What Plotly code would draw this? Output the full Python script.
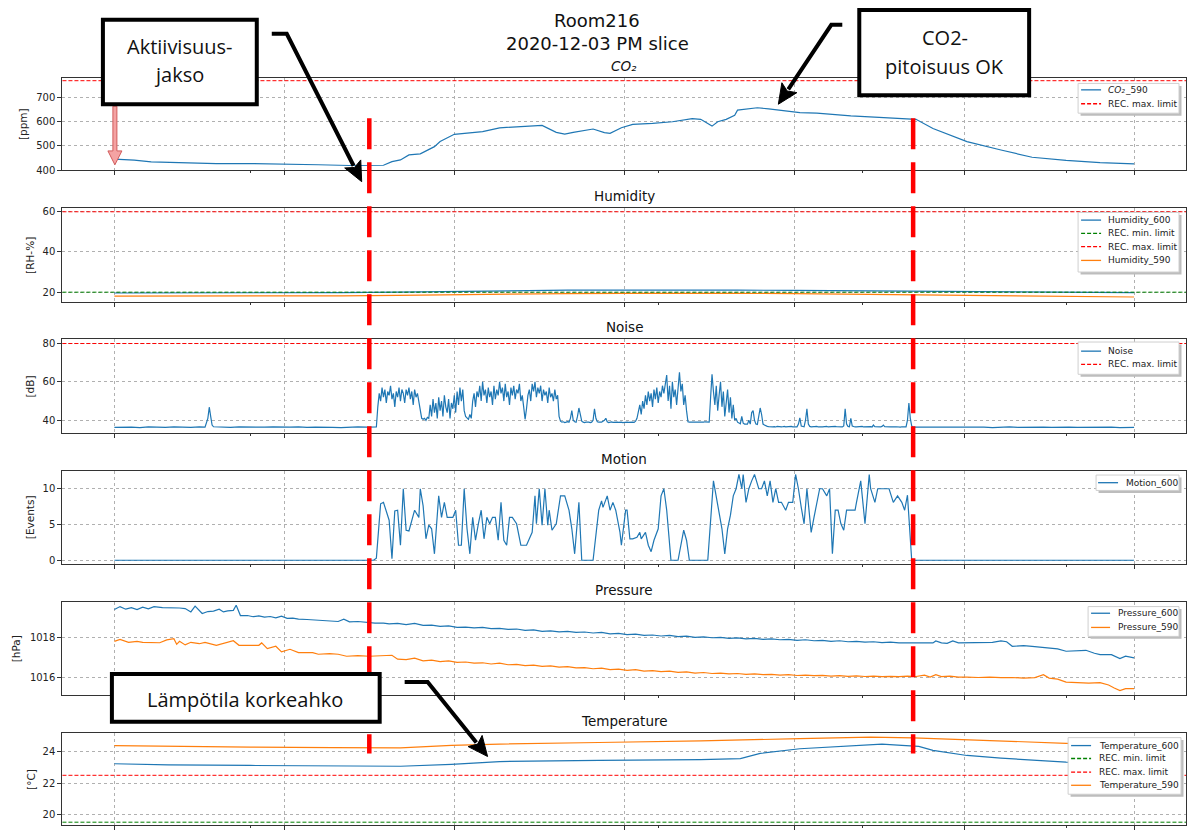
import math
import plotly.graph_objects as go
import pandas as pd

# ---------------- data (minutes after 12:00 on 2020-12-03) ----------------
DAY_START = "2020-12-03 12:00"

co2_min = [0, 7, 13, 24, 36, 48, 60, 72, 83, 91, 95, 98, 101, 104, 108, 113, 115, 120, 125, 130,
           136, 142, 151, 156, 159, 162, 167, 169, 173, 175, 179, 183, 190, 197, 204, 207, 211, 213, 216, 219,
           220, 223, 227, 231, 235, 242, 248, 260, 270, 283, 289, 301, 313, 324, 336, 348, 360]
co2_590 = [445, 441, 434, 430, 427, 427, 423, 422, 419, 419, 420, 435, 442, 463, 467, 497, 518, 548, 552, 559,
           575, 579, 585, 556, 549, 556, 568, 570, 555, 552, 575, 589, 593, 600, 613, 610, 582, 600, 610, 627,
           648, 652, 658, 653, 648, 638, 636, 624, 618, 610, 572, 518, 483, 453, 440, 431, 426]

hum_min = [0, 20, 40, 60, 80, 100, 120, 140, 160, 180, 200, 220, 240, 260, 280, 300, 320, 340, 360]
hum_600 = [19.6, 19.6, 19.7, 19.7, 19.8, 20.0, 20.4, 20.8, 21.0, 21.0, 21.1, 21.0, 20.9, 20.7, 20.4, 20.2, 20.0, 19.9, 19.8]
hum_590 = [18.0, 18.0, 18.0, 18.1, 18.2, 18.4, 18.8, 19.1, 19.3, 19.4, 19.5, 19.4, 19.3, 19.0, 18.8, 18.4, 18.0, 17.8, 17.6]

noise_pre_min = [0, 3, 6, 9, 12, 15, 18, 21, 24, 27, 30, 32, 33, 33.5, 34, 34.5, 35,
                 38, 41, 44, 47, 50, 53, 56, 59, 62, 65, 68, 71, 74, 77, 80, 83, 86, 89, 92]
noise_pre = [36.3, 36.5, 36.4, 36.2, 36.5, 36.4, 36.3, 36.6, 36.4, 36.3, 36.5, 36.4, 41, 46.8, 42, 37.5, 36.6,
             36.4, 36.3, 36.5, 36.4, 36.2, 36.4, 36.5, 36.3, 36.4, 36.6, 36.3, 36.4, 36.5, 36.3, 36.2, 36.4, 36.5, 36.4, 36.3]
noise_active_start = 92.5   # 30 s samples during the activity period
noise_active = [
    36.5, 47, 54, 50, 57, 52, 56, 49, 55, 53,
    58, 51, 54, 47, 55, 52, 57, 50, 56, 54,
    49, 56, 53, 57, 51, 55, 48, 56, 52, 54,
    50, 44, 41, 40.5, 41, 40, 41.5, 41, 48, 42,
    51, 44, 49, 41, 52, 45, 50, 42, 53, 47,
    44, 51, 41, 49, 46, 53, 44, 55, 48, 57,
    50, 56, 45, 42, 41, 40.5, 43, 41, 50, 54,
    47, 55, 52, 58, 50, 60, 53, 56, 49, 57,
    52, 55, 48, 58, 51, 56, 53, 60, 54, 57,
    50, 59, 52, 55, 48, 57, 53, 58, 51, 56,
    54, 59, 50, 53, 47, 40.5, 46, 53, 56, 50,
    59, 55, 60, 52, 57, 54, 58, 50, 56, 53,
    55, 49, 57, 52, 54, 50, 56, 51, 53, 42,
    39.5, 39, 39.2, 38.8, 39, 39.3, 39, 41, 45, 40,
    39.2, 39, 42, 46.4, 43, 39.5, 39, 38.8, 39, 39.2,
    39, 38.8, 39, 40, 46, 41, 39.2, 39, 38.9, 39,
    39.5, 40, 41, 39.2, 38.8, 39, 39.1, 38.9, 39, 39.2,
    39, 38.9, 39.1, 39, 38.8, 39, 39.1, 39, 38.9, 39,
    39.2, 39, 38.9, 39.5, 41, 44, 48, 43, 50, 46,
    53, 48, 55, 50, 54, 47, 56, 51, 57, 49,
    55, 52, 58, 54, 60, 63.6, 50, 58, 46, 60,
    52, 56, 48, 57, 65, 55, 59, 48, 53, 45,
    39.2, 39, 38.9, 39, 39.1, 39, 38.8, 39, 39.1, 39,
    38.9, 39, 39.2, 39, 38.9, 39, 52, 64, 55, 48,
    58, 45, 53, 60, 47, 55, 42, 50, 56, 44,
    52, 41, 48, 40, 41, 39, 38.5, 38.2, 42, 38.5,
    38, 37.8, 38, 40, 38, 44, 45, 40, 38, 37.8,
    42, 46.4, 43, 38, 37.5, 37, 36.8, 36.7, 36.6, 36.8,
    36.6, 36.7, 36.5, 36.8, 36.6, 36.7, 36.5, 36.6, 36.8, 36.6,
    36.7, 36.5, 36.6, 36.8, 36.6, 36.7, 36.5, 36.6, 38, 41.3,
    37, 36.7, 36.6, 40, 46, 38, 36.8, 36.6, 36.7, 36.5,
    36.6, 36.8, 36.5, 36.7, 36.6, 36.5, 36.7, 36.6, 36.8, 36.5,
    36.6, 36.7, 36.5, 36.6, 36.8, 36.6, 36.5, 36.7, 36.6, 36.5,
    37, 46, 38, 36.8, 36.6, 41, 37, 36.7, 36.5, 36.6,
    36.7, 36.5, 36.6, 36.8, 36.5, 36.6, 36.7, 36.5, 36.6, 36.7,
    36.5, 37.5, 36.6, 36.5, 36.7, 36.6, 36.5, 36.8, 37.5, 36.6,
    36.5, 36.7, 36.6, 36.5, 36.6, 36.4, 36.5, 36.6, 36.4, 36.5,
    36.4, 36.6, 36.5, 36.4, 36.5, 40, 49, 41, 37, 36.4,
]
noise_post_min = [283, 286, 289, 292, 295, 298, 301, 304, 307, 310, 313, 316, 319, 322, 325, 328,
                  331, 334, 337, 340, 343, 346, 349, 352, 355, 358, 360]
noise_post = [36.4, 36.5, 36.3, 36.4, 36.6, 36.4, 36.3, 36.5, 36.4, 36.2, 36.4, 36.5, 36.3, 36.4,
              36.6, 36.4, 36.3, 36.5, 36.4, 36.3, 36.4, 36.5, 36.3, 36.4, 36.2, 36.4, 36.3]

motion_600 = [  # (minute, events)
    (0, 0), (91.5, 0), (92.5, 0.3), (94, 7.9), (95, 8.1), (96, 6.9), (97, 5.6), (98, 0.2), (99, 6.9), (100, 7),
    (101, 2.1), (102, 10), (103, 4.2), (104, 4.1), (105, 5.6), (106, 7), (107.5, 6), (108, 10), (109, 7.6),
    (110, 3), (111, 4.9), (112, 4.4), (113, 0.9), (114.5, 9), (115.5, 6), (116.5, 8.1), (117.5, 6), (119.5, 6),
    (120.5, 7), (121.5, 2.1), (122.5, 2.1), (123.5, 10), (124.5, 4.4), (125.5, 0.9), (126.5, 6), (127.5, 2.8),
    (128.5, 5.1), (129.5, 7), (130.5, 3), (131.5, 6), (132.5, 5.1), (133.5, 6), (134.5, 6), (135.5, 2.8),
    (136.5, 8.1), (137.5, 2.8), (138.5, 2.1), (139.5, 6), (140.5, 6), (142, 5.1), (143.5, 2.1), (145.5, 2.1),
    (147.5, 3.9), (148.5, 9), (149, 5.1), (150, 10), (151, 4.9), (152, 10), (153, 4.9), (153.5, 7), (154.5, 4.2),
    (156, 5.1), (157.5, 9), (159, 9), (160.5, 7), (161.5, 4.4), (162.5, 0.9), (164, 8.1), (165, 0), (169, 0),
    (171, 7), (172, 8.3), (172.5, 7.4), (174, 9), (175, 7), (176, 8.1), (177, 7), (178.5, 3.9), (179, 2.1),
    (180.5, 7), (181, 7), (182, 3), (183, 3), (184.5, 3.2), (185.5, 3.9), (186, 3), (187.5, 3.9), (188.5, 2.1),
    (189.5, 1.2), (190.5, 2.8), (192, 4.4), (193, 9), (194, 10), (195, 7), (196.5, 0), (199, 0), (201, 4.2),
    (202, 2.8), (203, 0), (209.5, 0), (211.5, 11.1), (212.5, 9), (213, 8.1), (214.5, 4.4), (215.5, 0.9),
    (216.5, 4.4), (217.5, 6.3), (218.5, 9), (219.5, 10), (220.5, 12), (221.5, 10), (222, 12), (223, 8.1),
    (224, 10), (225, 11.1), (226, 12), (227.5, 10), (228.5, 10), (229.5, 11.1), (230.5, 9), (231.5, 11.1),
    (232.5, 8.1), (233.5, 10), (234.5, 8.1), (235.5, 8.1), (237, 7), (238, 8.1), (239.5, 8.1), (240.5, 12),
    (241.5, 10), (242.5, 7.4), (243.5, 5.1), (244.5, 10), (246, 3.9), (247, 6), (248, 8.1), (249, 10), (250, 10),
    (251.5, 9), (252.5, 10), (253.5, 0.9), (254.5, 7), (255.5, 7), (256.5, 5.1), (257.5, 4.2), (258.5, 7),
    (261.5, 7), (262, 8.1), (263.5, 11.1), (265, 5.1), (266.5, 12), (267, 10), (268.5, 8.1), (269.5, 10),
    (273.5, 10), (275, 8.1), (276.5, 9), (278, 8.1), (279, 7), (280, 9.1), (281.5, 0), (360, 0),
]

pressure_600 = [
    (0, 1019.40), (2, 1019.55), (4, 1019.42), (6, 1019.5), (8, 1019.4), (10, 1019.52), (12, 1019.44),
    (14, 1019.55), (17, 1019.5), (20, 1019.5), (23, 1019.48), (25, 1019.45), (27, 1019.28), (28.5, 1019.57),
    (31, 1019.2), (33, 1019.3), (35, 1019.32), (37, 1019.42), (38.5, 1019.28), (40, 1019.33), (42, 1019.36),
    (43, 1019.62), (44.5, 1019.1), (47, 1019.1), (49, 1019.04), (51, 1019.08), (53, 1019.02), (55, 1019.05),
    (57, 1018.98), (59, 1019.07), (61, 1018.96), (63, 1018.97), (65, 1018.92), (68, 1018.9), (71, 1018.88),
    (74, 1018.87), (77, 1018.82), (79, 1018.8), (81, 1018.92), (83, 1018.78), (86, 1018.8), (89, 1018.76),
    (92, 1018.72), (95, 1018.72), (97, 1018.68), (100, 1018.7), (103, 1018.64), (106, 1018.7), (109, 1018.6),
    (112, 1018.62), (115, 1018.55), (118, 1018.58), (121, 1018.5), (124, 1018.52), (127, 1018.48), (130, 1018.5),
    (133, 1018.44), (136, 1018.45), (139, 1018.4), (142, 1018.42), (145, 1018.35), (148, 1018.38), (151, 1018.3),
    (154, 1018.33), (157, 1018.28), (160, 1018.3), (163, 1018.25), (166, 1018.27), (169, 1018.22), (172, 1018.25),
    (175, 1018.18), (178, 1018.2), (181, 1018.14), (184, 1018.16), (187, 1018.1), (190, 1018.12), (193, 1018.07),
    (196, 1018.1), (199, 1018.04), (202, 1018.06), (205, 1018.0), (208, 1018.02), (211, 1017.98), (214, 1018.0),
    (217, 1017.95), (220, 1017.97), (223, 1017.92), (226, 1017.95), (229, 1017.9), (232, 1017.92), (235, 1017.88),
    (238, 1017.9), (241, 1017.85), (244, 1017.88), (247, 1017.83), (250, 1017.85), (253, 1017.8), (256, 1017.83),
    (259, 1017.78), (262, 1017.8), (265, 1017.76), (268, 1017.78), (271, 1017.74), (274, 1017.76), (277, 1017.72),
    (280, 1017.73), (283, 1017.72), (286, 1017.72), (289, 1017.72), (290, 1017.82), (292, 1017.72), (294, 1017.7),
    (296, 1017.82), (298, 1017.72), (301, 1017.72), (304, 1017.72), (307, 1017.72), (310, 1017.75), (313, 1017.82),
    (315, 1017.78), (317, 1017.55), (321, 1017.58), (324, 1017.55), (327, 1017.5), (330, 1017.45), (333, 1017.42),
    (336, 1017.3), (339, 1017.33), (343, 1017.35), (346, 1017.2), (348, 1017.13), (352, 1017.13), (355, 1016.93),
    (357, 1017.05), (360, 1016.97),
]
pressure_590 = [
    (0, 1017.8), (2, 1017.9), (5, 1017.75), (8, 1017.8), (10, 1017.75), (13, 1017.73), (16, 1017.73),
    (18.5, 1017.87), (21, 1017.93), (22, 1017.65), (23, 1017.8), (25, 1017.62), (27, 1017.75), (30, 1017.68),
    (32, 1017.75), (36, 1017.6), (40, 1017.75), (42, 1017.83), (44, 1017.6), (47, 1017.6), (51, 1017.6),
    (52, 1017.72), (54, 1017.43), (57, 1017.55), (59, 1017.27), (62, 1017.4), (65, 1017.23), (70, 1017.23),
    (72, 1017.15), (76, 1017.18), (79, 1017.15), (82, 1017.05), (86, 1017.08), (90, 1017.05), (93, 1017.06),
    (95, 1017.1), (98, 1017.1), (100, 1016.9), (103, 1016.88), (106, 1016.95), (109, 1016.82), (112, 1016.85),
    (115, 1016.78), (118, 1016.82), (121, 1016.74), (124, 1016.76), (127, 1016.7), (130, 1016.72), (133, 1016.66),
    (136, 1016.7), (139, 1016.62), (142, 1016.64), (145, 1016.58), (148, 1016.6), (151, 1016.54), (154, 1016.56),
    (157, 1016.5), (160, 1016.53), (163, 1016.46), (166, 1016.48), (169, 1016.42), (172, 1016.45), (175, 1016.38),
    (178, 1016.4), (181, 1016.34), (184, 1016.37), (187, 1016.3), (190, 1016.32), (193, 1016.27), (196, 1016.3),
    (199, 1016.24), (202, 1016.26), (205, 1016.2), (208, 1016.23), (211, 1016.18), (214, 1016.2), (217, 1016.16),
    (220, 1016.18), (223, 1016.14), (226, 1016.16), (229, 1016.12), (232, 1016.14), (235, 1016.1), (238, 1016.12),
    (241, 1016.08), (244, 1016.1), (247, 1016.07), (250, 1016.09), (253, 1016.05), (256, 1016.07), (259, 1016.04),
    (262, 1016.06), (265, 1016.03), (268, 1016.05), (271, 1016.02), (274, 1016.04), (277, 1016.02), (280, 1016.05),
    (283, 1016.03), (286, 1016.1), (288, 1016.0), (290, 1016.12), (292, 1016.02), (295, 1016.05), (298, 1016.0),
    (301, 1016.0), (305, 1015.98), (309, 1016.0), (313, 1015.97), (317, 1015.98), (321, 1015.95), (325, 1015.97),
    (328, 1016.12), (330, 1015.95), (333, 1015.9), (336, 1015.75), (340, 1015.72), (344, 1015.7), (348, 1015.72),
    (351, 1015.6), (353, 1015.45), (355, 1015.32), (357, 1015.42), (360, 1015.42),
]

temp600_min = [0, 19, 48, 77, 101, 119, 136, 171, 207, 221, 228, 242, 263, 271, 278, 284, 289, 301, 313, 327, 336, 360]
temp_600 = [23.24, 23.17, 23.13, 23.1, 23.08, 23.2, 23.38, 23.45, 23.5, 23.57, 23.9, 24.2, 24.4, 24.5, 24.42,
            24.35, 24.1, 23.77, 23.6, 23.45, 23.34, 23.2]
temp590_min = [0, 19, 48, 77, 101, 119, 136, 171, 207, 242, 267, 282, 301, 336, 360]
temp_590 = [24.4, 24.35, 24.3, 24.27, 24.25, 24.42, 24.5, 24.6, 24.7, 24.85, 24.95, 24.9, 24.78, 24.55, 24.45]

co2_max = 770
hum_min_lim, hum_max_lim = 20, 60
noise_max = 80
temp_min_lim, temp_max_lim = 19.5, 22.5
activity = ["2020-12-03 13:30", "2020-12-03 16:42"]

# ---------------- helpers ----------------
W, H = 1187, 830
T0 = pd.Timestamp(DAY_START)
BLUE, ORANGE, GREEN, RED = "#1f77b4", "#ff7f0e", "#008000", "#ff0000"
FONT = "DejaVu Sans"


def ts(mins):
    return [T0 + pd.Timedelta(minutes=m) for m in mins]


def px(x):
    return x / W


def py(y):
    return 1 - y / H


fig = go.Figure()

# panels: pixel top/bottom of each axes box
PANELS = [(77.5, 170.5), (208.3, 303.3), (340.7, 435), (473, 567), (605, 699), (737.3, 830)]
YRANGES = [[399.2, 781.4], [15.06, 61.98], [33.43, 82.23], [-0.51, 12.54], [1015.1, 1019.8], [19.32, 25.21]]
YTICKS = [[400, 500, 600, 700], [20, 40, 60], [40, 60, 80], [0, 5, 10], [1016, 1018], [20, 22, 24]]
YLABELS = ["[ppm]", "[RH-%]", "[dB]", "[Events]", "[hPa]", "[°C]"]
YLABEL_X = [23, 30, 30.5, 30, 16, 31]
TITLES = ["CO₂", "Humidity", "Noise", "Motion", "Pressure", "Temperature"]
XR = ["2020-12-03 11:41:40", "2020-12-03 18:18:20"]


def ax(k):
    return ("x" if k == 1 else f"x{k}"), ("y" if k == 1 else f"y{k}")


def line(k, x, y, color):
    xa, ya = ax(k)
    fig.add_trace(go.Scatter(x=x, y=y, mode="lines", line=dict(color=color, width=1.2),
                             xaxis=xa, yaxis=ya, showlegend=False, hoverinfo="skip"))


line(1, ts(co2_min), co2_590, BLUE)
line(2, ts(hum_min), hum_600, BLUE)
line(2, ts(hum_min), hum_590, ORANGE)
n_t = noise_pre_min + [noise_active_start + 0.5 * i for i in range(len(noise_active))] + noise_post_min
n_v = noise_pre + noise_active + noise_post
line(3, ts(n_t), n_v, BLUE)
line(4, ts([p[0] for p in motion_600]), [p[1] for p in motion_600], BLUE)
line(5, ts([p[0] for p in pressure_600]), [p[1] for p in pressure_600], BLUE)
line(5, ts([p[0] for p in pressure_590]), [p[1] for p in pressure_590], ORANGE)
line(6, ts(temp600_min), temp_600, BLUE)
line(6, ts(temp590_min), temp_590, ORANGE)

layout = dict(
    width=W, height=H, margin=dict(l=0, r=0, t=0, b=0),
    paper_bgcolor="white", plot_bgcolor="white", showlegend=False,
    font=dict(family=FONT, size=10, color="#222"),
)
minor_vals = ["2020-12-03 12:48", "2020-12-03 15:12", "2020-12-03 16:24", "2020-12-03 17:36"]
for k in range(1, 7):
    top, bot = PANELS[k - 1]
    xa, ya = ax(k)
    layout["xaxis" if k == 1 else f"xaxis{k}"] = dict(
        domain=[62.5 / W, 1.0], range=XR, anchor=ya, type="date",
        tickmode="linear", tick0="2020-12-03 12:00", dtick=3600000,
        showticklabels=False, ticks="outside", ticklen=4, tickwidth=1, tickcolor="#333",
        showgrid=True, gridcolor="#b0b0b0", griddash="dot", gridwidth=0.8,
        showline=True, linecolor="#333", linewidth=1.2, mirror=True, zeroline=False,
        minor=dict(tickmode="array", tickvals=minor_vals, ticks="outside", ticklen=2,
                   tickcolor="#333", showgrid=False),
    )
    layout["yaxis" if k == 1 else f"yaxis{k}"] = dict(
        domain=[py(bot), py(top)], range=YRANGES[k - 1], anchor=xa,
        tickmode="array", tickvals=YTICKS[k - 1], ticks="outside", ticklen=4, tickwidth=1, tickcolor="#333",
        tickfont=dict(family=FONT, size=10, color="#222"),
        showgrid=True, gridcolor="#b0b0b0", griddash="dot", gridwidth=0.8,
        showline=True, linecolor="#333", linewidth=1.2, mirror=True, zeroline=False,
    )
fig.update_layout(**layout)

shapes = []
annos = []

# recommended limit lines
for k, val, col in [(1, co2_max, RED), (2, hum_min_lim, GREEN), (2, hum_max_lim, RED), (3, noise_max, RED),
                    (6, temp_min_lim, GREEN), (6, temp_max_lim, RED)]:
    xa, ya = ax(k)
    shapes.append(dict(type="line", xref=f"{xa} domain", yref=ya, x0=0, x1=1, y0=val, y1=val,
                       line=dict(color=col, width=1, dash="4px,2px"), layer="above"))

# titles
annos.append(dict(text="Room216", x=px(598), y=py(20), xref="paper", yref="paper", showarrow=False,
                  font=dict(size=18, family=FONT, color="#111"), xanchor="center", yanchor="middle"))
annos.append(dict(text="2020-12-03 PM slice", x=px(598), y=py(43), xref="paper", yref="paper", showarrow=False,
                  font=dict(size=18, family=FONT, color="#111"), xanchor="center", yanchor="middle"))
for k in range(6):
    top, bot = PANELS[k]
    annos.append(dict(text=TITLES[k], x=px(624.75), y=py(top - 12), xref="paper", yref="paper", showarrow=False,
                      font=dict(size=13.5, family=FONT, color="#111", style="italic" if k == 0 else "normal"),
                      xanchor="center", yanchor="middle"))
    annos.append(dict(text=YLABELS[k], x=px(YLABEL_X[k]), y=py((top + min(bot, 831)) / 2), xref="paper", yref="paper",
                      showarrow=False, textangle=-90, font=dict(size=10.5, family=FONT, color="#222"),
                      xanchor="center", yanchor="middle"))

# legends (matplotlib style, with shadow)
LEGENDS = [
    ((1079, 83, 1180, 113), (1082, 1102, 1107), [(89.5, "CO₂|_590", BLUE, "solid"), (103.5, "REC. max. limit", RED, "dash")]),
    ((1079, 213, 1180, 273), (1082, 1102, 1107), [(220.7, "Humidity_600", BLUE, "solid"), (234, "REC. min. limit", GREEN, "dash"),
                                                 (247.5, "REC. max. limit", RED, "dash"), (261.3, "Humidity_590", ORANGE, "solid")]),
    ((1079, 343.5, 1180, 376), (1082, 1102, 1107), [(352.7, "Noise", BLUE, "solid"), (366, "REC. max. limit", RED, "dash")]),
    ((1097, 477.5, 1180, 493), (1099, 1119, 1125), [(485.2, "Motion_600", BLUE, "solid")]),
    ((1089, 610, 1180, 640), (1092, 1111, 1117), [(616.7, "Pressure_600", BLUE, "solid"), (631, "Pressure_590", ORANGE, "solid")]),
    ((1069, 742, 1182, 799), (1072, 1092, 1098), [(750, "Temperature_600", BLUE, "solid"), (763, "REC. min. limit", GREEN, "dash"),
                                                 (776.7, "REC. max. limit", RED, "dash"), (790, "Temperature_590", ORANGE, "solid")]),
]
for (x0, y0, x1, y1), (lx0, lx1, tx), items in LEGENDS:
    shapes.append(dict(type="rect", xref="paper", yref="paper", x0=px(x0 + 2.5), x1=px(x1 + 2.5),
                       y0=py(y0 + 2.5), y1=py(y1 + 2.5), fillcolor="#bdbdbd", line=dict(width=0), layer="above"))
    shapes.append(dict(type="rect", xref="paper", yref="paper", x0=px(x0), x1=px(x1), y0=py(y0), y1=py(y1),
                       fillcolor="white", line=dict(color="#cfcfcf", width=1), layer="above"))
    for yy, lbl, col, dash in items:
        shapes.append(dict(type="line", xref="paper", yref="paper", x0=px(lx0), x1=px(lx1), y0=py(yy), y1=py(yy),
                           line=dict(color=col, width=1.3, dash="4px,2px" if dash == "dash" else "solid"), layer="above"))
        if "|" in lbl:  # math-style italic part followed by plain suffix
            ital, plain = lbl.split("|")
            annos.append(dict(text=ital, x=px(tx), y=py(yy), xref="paper", yref="paper", showarrow=False,
                              xanchor="left", yanchor="middle",
                              font=dict(size=9, family=FONT, color="#222", style="italic")))
            annos.append(dict(text=plain, x=px(tx + 16.5), y=py(yy), xref="paper", yref="paper", showarrow=False,
                              xanchor="left", yanchor="middle", font=dict(size=9, family=FONT, color="#222")))
        else:
            annos.append(dict(text=lbl, x=px(tx), y=py(yy), xref="paper", yref="paper", showarrow=False,
                              xanchor="left", yanchor="middle", font=dict(size=9, family=FONT, color="#222")))

# activity period markers (red dashed verticals)
for t in activity:
    shapes.append(dict(type="line", xref="x", yref="paper", x0=t, x1=t, y0=py(118), y1=py(758),
                       line=dict(color=RED, width=4.5, dash="31px,13px"), layer="above"))

# pink arrow pointing at the start of the CO2 curve
shapes.append(dict(type="path", xref="paper", yref="paper", layer="above",
                   path="M {a},{b} L {c},{b} L {c},{d} L {e},{d} L {f},{g} L {h},{d} L {a},{d} Z".format(
                       a=px(113), b=py(106), c=px(117), d=py(151), e=px(122), f=px(115), g=py(165), h=px(108)),
                   fillcolor="#f4a3a3", line=dict(color="#d25c5c", width=1)))

# callout boxes
BOX_FONT = "Open Sans"
boxes = [
    ((103, 19, 257, 104), [("Aktiivisuus-", 179.5, 45.5), ("jakso", 179, 74)]),
    ((860, 9, 1030, 95), [("CO2-", 945.5, 36.7), ("pitoisuus OK", 945.5, 65.8)]),
    ((112, 678, 380, 726), [("Lämpötila korkeahko", 245.5, 703.8)]),
]
for (x0, y0, x1, y1), texts in boxes:
    shapes.append(dict(type="rect", xref="paper", yref="paper", x0=px(x0), x1=px(x1), y0=py(y0), y1=py(y1),
                       fillcolor="white", line=dict(color="black", width=4), layer="above"))
    for txt, cx, cy in texts:
        annos.append(dict(text=txt, x=px(cx), y=py(cy), xref="paper", yref="paper", showarrow=False,
                          xanchor="center", yanchor="middle", font=dict(size=20, family=BOX_FONT, color="#111")))

# callout arrows: tail -> corner -> tip, drawn as a polyline with a filled triangular head
arrows = [((272, 33), (287, 33), (362, 182)),
          ((843, 24), (832, 24), (779, 104)),
          ((405, 686), (428, 686), (488, 761))]
HEAD_LEN, HEAD_HALF = 20, 9
for (tx_, ty_), (cx, cy), (hx, hy) in arrows:
    dx, dy = hx - cx, hy - cy
    dl = math.hypot(dx, dy)
    ux, uy = dx / dl, dy / dl
    bx, by = hx - HEAD_LEN * ux, hy - HEAD_LEN * uy
    nx, ny = -uy, ux
    shapes.append(dict(type="path", xref="paper", yref="paper", layer="above",
                       path=f"M {px(tx_)},{py(ty_)} L {px(cx)},{py(cy)} L {px(bx + 2 * ux)},{py(by + 2 * uy)}",
                       line=dict(color="black", width=4)))
    shapes.append(dict(type="path", xref="paper", yref="paper", layer="above",
                       path=(f"M {px(hx)},{py(hy)} L {px(bx + HEAD_HALF * nx)},{py(by + HEAD_HALF * ny)} "
                             f"L {px(bx + 4 * ux)},{py(by + 4 * uy)} "
                             f"L {px(bx - HEAD_HALF * nx)},{py(by - HEAD_HALF * ny)} Z"),
                       fillcolor="black", line=dict(color="black", width=1)))

fig.update_layout(shapes=shapes, annotations=annos)

fig.write_html("out.html", config={"displayModeBar": False},
               post_script="document.body.style.margin='0px';document.body.style.overflow='hidden';")
